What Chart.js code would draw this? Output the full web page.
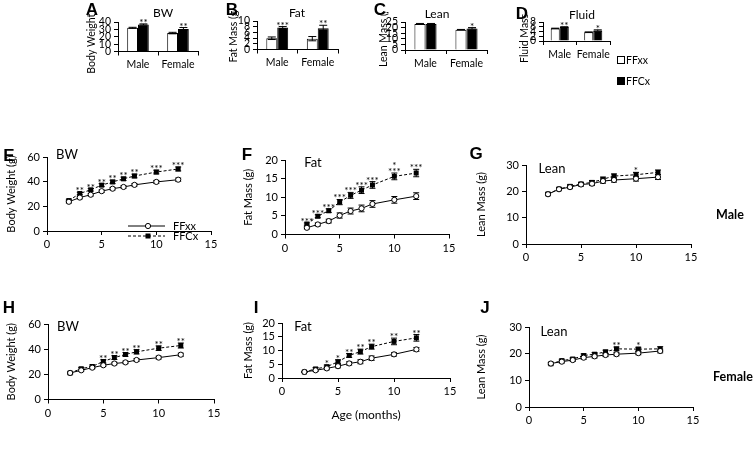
<!DOCTYPE html>
<html><head><meta charset="utf-8">
<script src="https://cdn.jsdelivr.net/npm/chart.js@4.4.0/dist/chart.umd.min.js"></script>
<style>
html,body{margin:0;padding:0;background:#fff;width:756px;height:471px;overflow:hidden;position:relative;font-family:Lato,sans-serif;}
.wrap{position:absolute;overflow:hidden;}
.wrap canvas{display:block;width:100% !important;height:100% !important;}
canvas.ovl{position:absolute;display:block;}
#dbg{position:absolute;left:0;top:440px;font-size:9px;white-space:pre;color:red;z-index:10;}
</style></head><body>
<div id="dbg"></div>
<script>
window.onerror = function (m, s, l, c) { document.getElementById('dbg').textContent += 'ERR ' + m + ' @' + l + ':' + c + '\n'; };

// ---------- DATA ----------
const sexCategories = ['Male', 'Female'];
const ages = [2, 3, 4, 5, 6, 7, 8, 10, 12];

// Panel A - Body weight (g)
const bwFFxx = [32.1, 25.0];   const bwFFxxSE = [0.7, 1.0];
const bwFFCx = [36.6, 30.6];   const bwFFCxSE = [0.8, 1.9];
const starsA = ['**', '**'];
// Panel B - Fat mass (g)
const fatFFxx = [3.95, 3.8];   const fatFFxxSE = [0.45, 0.75];
const fatFFCx = [7.7, 7.5];    const fatFFCxSE = [0.35, 1.0];
const starsB = ['***', '**'];
// Panel C - Lean mass (g)
const leanFFxx = [23.3, 18.1]; const leanFFxxSE = [0.4, 0.25];
const leanFFCx = [23.3, 19.3]; const leanFFCxSE = [0.4, 0.7];
const starsC = ['', '*'];
// Panel D - Fluid mass (g)
const fluidFFxx = [5.3, 3.72]; const fluidFFxxSE = [0.1, 0.1];
const fluidFFCx = [5.9, 4.4];  const fluidFFCxSE = [0.08, 0.3];
const starsD = ['**', '*'];

// Panel E - male body weight by age
const bwMaleFFxx = [23.7, 27.1, 29.4, 32.3, 34.3, 35.7, 37.4, 39.8, 41.6];
const bwMaleFFxxSE = [1.0, 1.0, 1.0, 1.0, 1.0, 1.0, 1.0, 1.2, 1.3];
const bwMaleFFCx = [24.7, 30.4, 33.4, 37.2, 39.8, 42.3, 44.6, 47.8, 50.3];
const bwMaleFFCxSE = [1.0, 1.0, 1.0, 1.2, 1.4, 1.4, 1.5, 1.5, 1.6];
const starsE = ['', '**', '**', '**', '**', '**', '**', '***', '***'];
// Panel F - male fat mass by age
const fatMaleFFxx = [1.8, 2.7, 3.6, 5.1, 6.3, 7.0, 8.2, 9.3, 10.3];
const fatMaleFFxxSE = [0.3, 0.4, 0.5, 0.7, 0.8, 0.9, 0.9, 0.9, 0.9];
const fatMaleFFCx = [2.8, 4.9, 6.4, 8.7, 10.5, 11.9, 13.3, 15.6, 16.5];
const fatMaleFFCxSE = [0.3, 0.4, 0.5, 0.7, 0.8, 0.9, 0.9, 0.9, 1.0];
const starsF = ['***', '***', '***', '***', '***', '***', '***', '*\n***', '***'];
// Panel G - male lean mass by age
const leanMaleFFxx = [18.9, 20.8, 21.6, 22.6, 22.9, 23.9, 24.3, 24.8, 25.4];
const leanMaleFFxxSE = [0.5, 0.5, 0.6, 0.6, 0.7, 0.8, 0.8, 0.9, 0.9];
const leanMaleFFCx = [19.0, 20.9, 21.9, 22.8, 23.4, 24.6, 25.8, 26.3, 27.2];
const leanMaleFFCxSE = [0.5, 0.5, 0.6, 0.6, 0.7, 0.8, 0.8, 0.9, 0.9];
const starsG = ['', '', '', '', '', '', '', '*', ''];
// Panel H - female body weight by age
const bwFemFFxx = [21.1, 23.2, 25.3, 27.2, 28.6, 29.5, 31.4, 33.3, 35.6];
const bwFemFFxxSE = [0.7, 0.8, 0.9, 0.9, 1.0, 1.0, 1.1, 1.1, 1.2];
const bwFemFFCx = [21.0, 24.5, 26.2, 30.3, 33.3, 35.8, 37.9, 40.8, 42.9];
const bwFemFFCxSE = [0.7, 1.0, 1.2, 1.3, 1.5, 1.5, 1.7, 1.8, 2.0];
const starsH = ['', '', '', '**', '**', '**', '**', '**', '**'];
// Panel I - female fat mass by age
const fatFemFFxx = [2.2, 2.8, 3.5, 4.3, 5.3, 5.9, 7.2, 8.6, 10.4];
const fatFemFFxxSE = [0.2, 0.4, 0.5, 0.6, 0.6, 0.7, 0.8, 0.6, 0.7];
const fatFemFFCx = [2.2, 3.3, 4.1, 5.9, 8.2, 9.6, 11.4, 13.3, 14.6];
const fatFemFFCxSE = [0.2, 0.5, 0.6, 0.7, 0.7, 0.9, 0.9, 1.2, 1.2];
const starsI = ['', '', '*', '*', '**', '**', '**', '**', '**'];
// Panel J - female lean mass by age
const leanFemFFxx = [16.3, 17.0, 17.6, 18.5, 19.0, 19.5, 19.8, 20.2, 21.0];
const leanFemFFxxSE = [0.4, 0.5, 0.5, 0.6, 0.6, 0.6, 0.6, 0.6, 0.7];
const leanFemFFCx = [16.2, 17.4, 18.0, 19.3, 19.8, 20.7, 21.8, 21.7, 21.8];
const leanFemFFCxSE = [0.4, 0.5, 0.5, 0.6, 0.6, 0.6, 0.7, 0.7, 0.8];
const starsJ = ['', '', '', '', '', '', '**', '*', ''];

// Figure texts
const panelLetters = ['A', 'B', 'C', 'D', 'E', 'F', 'G', 'H', 'I', 'J'];
const panelTitles = ['BW', 'Fat', 'Lean', 'Fluid', 'BW', 'Fat', 'Lean', 'BW', 'Fat', 'Lean'];
const rowLabels = ['Male', 'Female'];
const seriesNames = ['FFxx', 'FFCx'];

// ---------- SETUP ----------
Chart.defaults.font.family = 'Lato';
Chart.defaults.color = '#000';

function drawErrorBars(chart, behind) {
  const ctx = chart.ctx, ys = chart.scales.y;
  if (!ys) return;
  const errBehind = chart.config.type === 'line';
  chart.data.datasets.forEach((ds, di) => {
    if (!ds.errors) return;
    const meta = chart.getDatasetMeta(di);
    meta.data.forEach((el, i) => {
      const raw = ds.data[i];
      const v = (typeof raw === 'object') ? raw.y : raw;
      const e = ds.errors[i];
      const x = el.x;
      const yT = ys.getPixelForValue(v + e), yB = ys.getPixelForValue(v - e);
      if (behind === errBehind) {
        ctx.save();
        ctx.strokeStyle = '#000'; ctx.lineWidth = 1; ctx.setLineDash([]);
        const c = ds.cap || 3;
        ctx.beginPath();
        ctx.moveTo(x, yT); ctx.lineTo(x, yB);
        ctx.moveTo(x - c, yT); ctx.lineTo(x + c, yT);
        ctx.moveTo(x - c, yB); ctx.lineTo(x + c, yB);
        ctx.stroke();
        ctx.restore();
      }
      if (!behind && ds.stars && ds.stars[i]) {
        ctx.save();
        ctx.fillStyle = '#000';
        ctx.font = '10px Lato';
        ctx.textAlign = 'center'; ctx.textBaseline = 'alphabetic';
        const lines = ds.stars[i].split('\n');
        let by = yT + 2;
        for (let k = lines.length - 1; k >= 0; k--) {
          ctx.fillText(lines[k], x, by);
          by -= 6;
        }
        ctx.restore();
      }
    });
  });
}
const errPlugin = {
  id: 'errPlugin',
  beforeDatasetsDraw(chart) { drawErrorBars(chart, true); },
  afterDatasetsDraw(chart) { drawErrorBars(chart, false); }
};
Chart.register(errPlugin);

const legendE = {
  id: 'legendE',
  afterDraw(chart) {
    const ctx = chart.ctx, a = chart.chartArea;
    const rows = [
      {label: seriesNames[0], dash: [], style: 'circle', dy: 69},
      {label: seriesNames[1], dash: [3, 2], style: 'rect', dy: 79}
    ];
    rows.forEach(r => {
      const y = a.top + r.dy, x0 = a.left + 81, x1 = a.left + 118, xm = a.left + 101;
      ctx.save();
      ctx.strokeStyle = '#000'; ctx.lineWidth = 1; ctx.setLineDash(r.dash);
      ctx.beginPath(); ctx.moveTo(x0, y); ctx.lineTo(x1, y); ctx.stroke();
      ctx.setLineDash([]);
      if (r.style === 'circle') {
        ctx.fillStyle = '#fff'; ctx.beginPath(); ctx.arc(xm, y, 2.6, 0, Math.PI * 2); ctx.fill(); ctx.stroke();
      } else {
        ctx.fillStyle = '#000'; ctx.fillRect(xm - 2.5, y - 2.5, 5, 5);
      }
      ctx.fillStyle = '#000'; ctx.font = '11px Lato'; ctx.textAlign = 'left'; ctx.textBaseline = 'middle';
      ctx.fillText(r.label, a.left + 126, y + 0.5);
      ctx.restore();
    });
  }
};

function axisCommon(fs) {
  return {
    grid: {display: true, drawOnChartArea: false, drawTicks: true, tickLength: 4, color: '#000', lineWidth: 1},
    border: {display: true, color: '#000', width: 1},
    ticks: {font: {size: fs}, color: '#000', padding: 3, maxRotation: 0, minRotation: 0, autoSkip: false}
  };
}

const charts = [];
function makePanel(p) {
  const PT = 10, PR = 10;
  const lh = p.fs * 1.2;
  const left = Math.round(p.titleX - lh / 2);
  const YW = p.l - left;
  const top = p.t - PT;
  const w = YW + (p.r - p.l) + PR;
  const h = PT + (p.b - p.t) + p.xh;
  const div = document.createElement('div');
  div.className = 'wrap';
  div.style.left = left + 'px'; div.style.top = top + 'px';
  div.style.width = w + 'px'; div.style.height = h + 'px';
  const cv = document.createElement('canvas');
  div.appendChild(cv);
  document.body.appendChild(div);

  const yAx = axisCommon(p.fs);
  Object.assign(yAx, {
    type: 'linear', min: 0, max: p.ymax,
    afterFit: s => { s.width = YW; },
    title: {display: true, text: p.ytitle, font: {size: p.fs}, padding: {top: 0, bottom: 0}, color: '#000'}
  });
  yAx.ticks.stepSize = p.ystep;

  const xAx = axisCommon(p.fs);
  xAx.afterFit = s => { s.height = p.xh; };
  if (p.xtitle) xAx.title = {display: true, text: p.xtitle, font: {size: 12}, padding: {top: 0, bottom: 0}, color: '#000'};

  let cfg;
  if (p.kind === 'bar') {
    Object.assign(xAx, {type: 'category', offset: true});
    xAx.grid.offset = true;
    cfg = {
      type: 'bar',
      data: {labels: sexCategories, datasets: [
        {label: seriesNames[0], data: p.a, errors: p.ae, backgroundColor: '#fff', borderColor: '#000', borderWidth: 1,
         categoryPercentage: 0.54, barPercentage: 1, cap: 4},
        {label: seriesNames[1], data: p.b, errors: p.be, stars: p.stars, backgroundColor: '#000', borderColor: '#000', borderWidth: 1,
         categoryPercentage: 0.54, barPercentage: 1, cap: 4}
      ]},
      options: {}
    };
  } else {
    Object.assign(xAx, {type: 'linear', min: 0, max: 15});
    xAx.ticks.stepSize = 5;
    cfg = {
      type: 'line',
      data: {datasets: [
        {label: seriesNames[0], data: ages.map((a, i) => ({x: a, y: p.a[i]})), errors: p.ae,
         borderColor: '#000', borderWidth: 1, pointStyle: 'circle', pointRadius: 2.6,
         pointBackgroundColor: '#fff', pointBorderColor: '#000', pointBorderWidth: 1, fill: false, tension: 0, cap: 3},
        {label: seriesNames[1], data: ages.map((a, i) => ({x: a, y: p.b[i]})), errors: p.be, stars: p.stars,
         borderColor: '#000', borderWidth: 1, borderDash: [3, 2], pointStyle: 'rect', pointRadius: 3.5,
         pointBackgroundColor: '#000', pointBorderColor: '#000', pointBorderWidth: 0, fill: false, tension: 0, cap: 3}
      ]},
      options: {}
    };
  }
  Object.assign(cfg.options, {
    animation: false, responsive: true, maintainAspectRatio: false, resizeDelay: 0, events: [],
    layout: {padding: {top: PT, right: PR, left: 0, bottom: 0}},
    plugins: {legend: {display: false}, tooltip: {enabled: false}},
    scales: {x: xAx, y: yAx}
  });
  if (p.plugins) cfg.plugins = p.plugins;
  const ch = new Chart(cv, cfg);
  ch.resize(w, h);
  charts.push({ch, w, h});
}

// ---------- PANELS ----------
makePanel({kind: 'bar', l: 118, t: 22, r: 198, b: 111, xh: 22, titleX: 91, fs: 10.5, ytitle: 'Body Weight (g)', ymax: 40, ystep: 10,
  a: bwFFxx, ae: bwFFxxSE, b: bwFFCx, be: bwFFCxSE, stars: starsA});
makePanel({kind: 'bar', l: 257, t: 21, r: 338, b: 109, xh: 22, titleX: 233, fs: 10.5, ytitle: 'Fat Mass (g)', ymax: 10, ystep: 2,
  a: fatFFxx, ae: fatFFxxSE, b: fatFFCx, be: fatFFCxSE, stars: starsB});
makePanel({kind: 'bar', l: 405, t: 22, r: 487, b: 109, xh: 22, titleX: 383, fs: 10.5, ytitle: 'Lean Mass (g)', ymax: 25, ystep: 5,
  a: leanFFxx, ae: leanFFxxSE, b: leanFFCx, be: leanFFCxSE, stars: starsC});
makePanel({kind: 'bar', l: 543, t: 22, r: 610, b: 109, xh: 22, titleX: 524, fs: 10.5, ytitle: 'Fluid Mass (g)', ymax: 8, ystep: 2,
  a: fluidFFxx, ae: fluidFFxxSE, b: fluidFFCx, be: fluidFFCxSE, stars: starsD});

makePanel({kind: 'line', l: 47, t: 157, r: 211, b: 263, xh: 24, titleX: 12, fs: 11, ytitle: 'Body Weight (g)', ymax: 60, ystep: 20,
  a: bwMaleFFxx, ae: bwMaleFFxxSE, b: bwMaleFFCx, be: bwMaleFFCxSE, stars: starsE, plugins: [legendE]});
makePanel({kind: 'line', l: 285, t: 160, r: 449, b: 265, xh: 24, titleX: 249, fs: 11, ytitle: 'Fat Mass (g)', ymax: 20, ystep: 5,
  a: fatMaleFFxx, ae: fatMaleFFxxSE, b: fatMaleFFCx, be: fatMaleFFCxSE, stars: starsF});
makePanel({kind: 'line', l: 526, t: 165, r: 691, b: 266, xh: 24, titleX: 482, fs: 11, ytitle: 'Lean Mass (g)', ymax: 30, ystep: 10,
  a: leanMaleFFxx, ae: leanMaleFFxxSE, b: leanMaleFFCx, be: leanMaleFFCxSE, stars: starsG});

makePanel({kind: 'line', l: 48, t: 324, r: 214, b: 428, xh: 24, titleX: 12, fs: 11, ytitle: 'Body Weight (g)', ymax: 60, ystep: 20,
  a: bwFemFFxx, ae: bwFemFFxxSE, b: bwFemFFCx, be: bwFemFFCxSE, stars: starsH});
makePanel({kind: 'line', l: 282, t: 323, r: 450, b: 427, xh: 44, titleX: 249, fs: 11, ytitle: 'Fat Mass (g)', ymax: 20, ystep: 5, xtitle: 'Age (months)',
  a: fatFemFFxx, ae: fatFemFFxxSE, b: fatFemFFCx, be: fatFemFFCxSE, stars: starsI});
makePanel({kind: 'line', l: 529, t: 327, r: 693, b: 427, xh: 24, titleX: 482, fs: 11, ytitle: 'Lean Mass (g)', ymax: 30, ystep: 10,
  a: leanFemFFxx, ae: leanFemFFxxSE, b: leanFemFFCx, be: leanFemFFCxSE, stars: starsJ});

// ---------- FIGURE TEXT OVERLAY (responsive full-page chart) ----------
const letterPos = [[92, 10], [232, 10], [380, 10], [522, 14], [9, 156], [247, 155], [476, 154], [9, 308], [256, 308], [485, 308]];
const titlePos = [[163, 13, 12], [297, 13, 12], [437, 14, 12], [582, 15, 12], [67, 155, 13], [313, 163, 13], [552, 169, 13], [68, 327, 13], [303, 327, 13], [554, 332, 13]];
const rowPos = [[730, 215], [733, 377]];
const figTextPlugin = {
  id: 'figText',
  afterDraw(chart) {
    const ctx = chart.ctx;
    ctx.save();
    ctx.fillStyle = '#000';
    ctx.textAlign = 'center'; ctx.textBaseline = 'middle';
    ctx.font = 'bold 17px "Liberation Sans", Arial, sans-serif';
    panelLetters.forEach((t, i) => ctx.fillText(t, letterPos[i][0], letterPos[i][1]));
    panelTitles.forEach((t, i) => { ctx.font = titlePos[i][2] + 'px Lato'; ctx.fillText(t, titlePos[i][0], titlePos[i][1]); });
    ctx.font = 'bold 12.5px Lato';
    rowLabels.forEach((t, i) => ctx.fillText(t, rowPos[i][0], rowPos[i][1]));
    ctx.lineWidth = 1; ctx.strokeStyle = '#000';
    ctx.fillStyle = '#fff'; ctx.fillRect(618, 57, 6, 6); ctx.strokeRect(617.5, 56.5, 7, 7);
    ctx.fillStyle = '#000'; ctx.fillRect(617, 77, 8, 8);
    ctx.font = '10.5px Lato'; ctx.textAlign = 'left';
    ctx.fillText(seriesNames[0], 626, 60.5);
    ctx.fillText(seriesNames[1], 626, 81.5);
    ctx.restore();
  }
};
const ov = document.createElement('canvas');
ov.className = 'ovl';
ov.style.left = '0px'; ov.style.top = '0px';
document.body.appendChild(ov);
new Chart(ov, {
  type: 'scatter',
  data: {datasets: []},
  options: {
    animation: false, responsive: true, maintainAspectRatio: false, events: [],
    layout: {padding: 0},
    plugins: {legend: {display: false}, tooltip: {enabled: false}},
    scales: {x: {display: false}, y: {display: false}}
  },
  plugins: [figTextPlugin]
});

// make sure every panel ends at its intended size
function settle() { charts.forEach(o => { if (o.ch.width !== o.w || o.ch.height !== o.h) o.ch.resize(o.w, o.h); }); }
requestAnimationFrame(settle);
setTimeout(settle, 50);
</script>
</body></html>
